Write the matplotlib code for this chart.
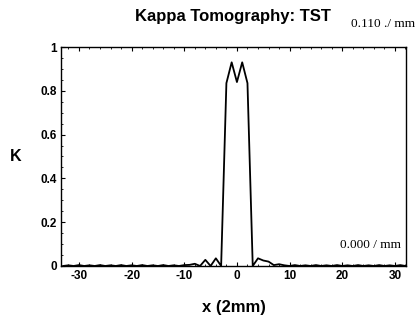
import numpy as np
import matplotlib
matplotlib.use('Agg')
import matplotlib.pyplot as plt
from matplotlib.ticker import MultipleLocator

# data: kappa along x (2mm grid)
x_pos = np.arange(-33, 33)
kappa = [
    0.0, 0.003, 0.0, 0.004, 0.0, 0.003, 0.0, 0.004, 0.0, 0.003,   # -33..-24
    0.0, 0.004, 0.0, 0.003, 0.0, 0.004, 0.0, 0.003, 0.0, 0.004,   # -23..-14
    0.0, 0.003, 0.0, 0.004, 0.005, 0.010, 0.0, 0.028, 0.0, 0.035, # -13..-4
    0.0, 0.835, 0.93, 0.84, 0.93, 0.835, 0.0,                     # -3..3
    0.035, 0.025, 0.02, 0.004, 0.008, 0.003, 0.0, 0.004, 0.0, 0.003, # 4..13
    0.0, 0.004, 0.0, 0.003, 0.0, 0.004, 0.0, 0.003, 0.0, 0.004,   # 14..23
    0.0, 0.003, 0.0, 0.004, 0.0, 0.003, 0.0, 0.004, 0.0,          # 24..32
]
x_ticks = [-30, -20, -10, 0, 10, 20, 30]
y_ticks = [0, 0.2, 0.4, 0.6, 0.8, 1]
y_ticklabels = ['0', '0.2', '0.4', '0.6', '0.8', '1']

plt.rcParams['font.family'] = ['Liberation Sans', 'DejaVu Sans']
plt.rcParams['axes.unicode_minus'] = False

fig = plt.figure(figsize=(4.19, 3.22), dpi=100)
ax = fig.add_axes([0.1456, 0.174, 0.8234, 0.680])

ax.plot(x_pos, kappa, color='black', lw=1.3)

ax.set_xlim(-33.4, 32.1)
ax.set_ylim(0, 1)
ax.set_xticks(x_ticks)
ax.set_yticks(y_ticks)
ax.set_yticklabels(y_ticklabels)
ax.xaxis.set_minor_locator(MultipleLocator(2))
ax.yaxis.set_minor_locator(MultipleLocator(0.05))
ax.tick_params(which='both', direction='in', top=True, right=False,
               labelsize=8.5, pad=3)
ax.tick_params(which='major', length=3, width=0.8)
ax.tick_params(which='minor', length=1.5, width=0.6)
for lab in ax.get_xticklabels() + ax.get_yticklabels():
    lab.set_fontweight('bold')
for spine in ax.spines.values():
    spine.set_linewidth(1.0)

ax.set_xlabel('x (2mm)', fontsize=12, fontweight='bold', labelpad=13)
ax.set_ylabel('K', fontsize=11.5, fontweight='bold', rotation=0, labelpad=18,
              va='center')

fig.text(0.556, 0.95, 'Kappa Tomography: TST', ha='center', va='center',
         fontsize=12, fontweight='bold')
fig.text(0.99, 0.925, '0.110 ./ mm', ha='right', va='center',
         fontsize=9.5, family='Liberation Serif')
ax.text(0.985, 0.095, '0.000 / mm', transform=ax.transAxes, ha='right',
        va='center', fontsize=9.5, family='Liberation Serif')

fig.savefig('out.png', dpi=100)
